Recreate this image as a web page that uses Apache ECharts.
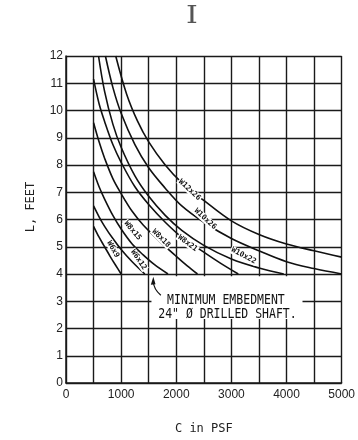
<!DOCTYPE html>
<html>
<head>
<meta charset="utf-8">
<script src="https://cdn.jsdelivr.net/npm/echarts@6/dist/echarts.min.js"></script>
<style>
  html, body { margin: 0; padding: 0; background: #fff; }
  #chart { width: 358px; height: 440px; }
</style>
</head>
<body>
<div id="chart"></div>
<script>
// Tick labels
const xTickLabels = ['0', '1000', '2000', '3000', '4000', '5000'];
const yTickLabels = ['0', '1', '2', '3', '4', '5', '6', '7', '8', '9', '10', '11', '12'];

// Curve names (wide-flange post sections)
const sections = ['W6x9', 'W6x12', 'W8x15', 'W8x18', 'W8x21', 'W10x22', 'W10x26', 'W12x26'];

// Embedment L (ft) against soil cohesion C (psf), one array per section
const w6x9   = [[500, 5.75], [600, 5.35], [700, 5.0], [800, 4.65], [900, 4.32], [1000, 4.0]];
const w6x12  = [[500, 6.5], [600, 6.1], [700, 5.75], [850, 5.3], [1000, 4.9], [1200, 4.45], [1430, 4.0]];
const w8x15  = [[500, 7.75], [600, 7.2], [700, 6.75], [850, 6.15], [1000, 5.65], [1200, 5.1], [1400, 4.7], [1600, 4.35], [1850, 4.0]];
const w8x18  = [[500, 9.55], [600, 8.85], [700, 8.25], [850, 7.5], [1000, 6.95], [1200, 6.3], [1400, 5.8], [1700, 5.2], [2000, 4.65], [2200, 4.3], [2385, 4.0]];
const w8x21  = [[500, 11.15], [600, 10.25], [700, 9.6], [850, 8.75], [1000, 8.1], [1250, 7.2], [1500, 6.55], [1800, 5.9], [2100, 5.35], [2500, 4.8], [2800, 4.4], [3125, 4.0]];
const w10x22 = [[590, 12], [700, 10.7], [850, 9.5], [1000, 8.65], [1250, 7.6], [1500, 6.85], [1800, 6.15], [2100, 5.6], [2500, 5.05], [3000, 4.55], [3500, 4.22], [3950, 4.0]];
const w10x26 = [[715, 12], [850, 10.85], [1000, 9.9], [1250, 8.75], [1500, 7.9], [1800, 7.15], [2100, 6.5], [2500, 5.9], [3000, 5.3], [3500, 4.85], [4000, 4.45], [4500, 4.2], [5000, 4.0]];
const w12x26 = [[902, 12], [1100, 10.6], [1300, 9.6], [1500, 8.85], [1800, 8.0], [2100, 7.35], [2500, 6.7], [3000, 5.95], [3500, 5.45], [4000, 5.1], [4500, 4.85], [5000, 4.62]];

const curves = [w6x9, w6x12, w8x15, w8x18, w8x21, w10x22, w10x26, w12x26];

// Where each section tag sits beside its curve: [C, L, slope angle in degrees]
const tagPlacement = [
  [854, 4.91, -62], [1317, 4.52, -56], [1210, 5.59, -50], [1726, 5.31, -45],
  [2206, 5.13, -37], [3221, 4.67, -28], [2527, 6.02, -42], [2242, 7.09, -43]
];

const note = ['MINIMUM EMBEDMENT', '24" \u00D8 DRILLED SHAFT.'];

const INK = '#1a1a1a';
const chart = echarts.init(document.getElementById('chart'), null, { renderer: 'canvas' });

chart.setOption({
  animation: false,
  backgroundColor: '#fff',
  grid: { left: 66, right: 11, top: 56, bottom: 47, containLabel: false },
  xAxis: {
    type: 'value', min: 0, max: 5000, interval: 500,
    name: 'C in PSF', nameLocation: 'middle', nameGap: 40,
    nameTextStyle: { fontFamily: 'DejaVu Sans Mono', fontSize: 12, color: '#222' },
    axisLine: { show: true, lineStyle: { color: INK, width: 1.5 } },
    axisTick: { show: false },
    axisLabel: {
      margin: 6, fontFamily: 'Liberation Sans', fontSize: 12, color: '#222',
      showMaxLabel: true, showMinLabel: true, hideOverlap: false,
      formatter: v => (xTickLabels.includes(String(v)) ? String(v) : '')
    },
    splitLine: { show: true, showMinLine: true, showMaxLine: true, lineStyle: { color: INK, width: 1.4 } }
  },
  yAxis: {
    type: 'value', min: 0, max: 12, interval: 1,
    axisLine: { show: true, lineStyle: { color: INK, width: 1.5 } },
    axisTick: { show: false },
    axisLabel: {
      margin: 3, fontFamily: 'Liberation Sans', fontSize: 12, color: '#222',
      formatter: v => yTickLabels[v] ?? ''
    },
    splitLine: { show: true, showMinLine: true, showMaxLine: true, lineStyle: { color: INK, width: 1.4 } }
  },
  series: curves.map((d, i) => ({
    name: sections[i], type: 'line', data: d, showSymbol: false, smooth: 0.35,
    clip: true, z: 3,
    lineStyle: { color: '#111', width: 1.6 }
  }))
});

// Annotations positioned through the axes
const px = (c, l) => chart.convertToPixel({ gridIndex: 0 }, [c, l]);
const g = [];

// 'I' section symbol above the plot
g.push({
  type: 'text', left: 186, top: 5, z: 10,
  style: { text: 'I', font: '24px "DejaVu Serif"', fill: '#555' },
  scaleX: 1.25
});

// y-axis title
g.push({
  type: 'text', x: 31, y: 207, rotation: Math.PI / 2, z: 10,
  style: { text: 'L, FEET', font: '12px "DejaVu Sans Mono"', fill: '#222', align: 'center', verticalAlign: 'middle' }
});

// Cleared area behind the embedment note
const b0 = px(1550, 3.92), b1 = px(4290, 2.35);
g.push({
  type: 'rect', z: 5,
  shape: { x: b0[0], y: b0[1], width: b1[0] - b0[0], height: b1[1] - b0[1] },
  style: { fill: '#fff' }
});

// Note text
const n1 = px(1833, 3.04), n2 = px(1673, 2.52);
g.push({
  type: 'text', x: n1[0], y: n1[1], z: 6, scaleY: 1.15,
  style: { text: note[0], font: '11.5px "DejaVu Sans Mono"', fill: '#111', verticalAlign: 'middle' }
});
g.push({
  type: 'text', x: n2[0], y: n2[1], z: 6, scaleY: 1.15,
  style: { text: note[1], font: '11.5px "DejaVu Sans Mono"', fill: '#111', verticalAlign: 'middle' }
});

// Leader arrow pointing at the L = 4 ft line
const a0 = px(1720, 3.22), aTip = px(1584, 3.9), aC = px(1590, 3.45);
g.push({
  type: 'bezierCurve', z: 6,
  shape: { x1: a0[0], y1: a0[1], x2: aTip[0], y2: aTip[1] + 5, cpx1: aC[0], cpy1: aC[1] },
  style: { stroke: '#111', lineWidth: 1.2, fill: null }
});
g.push({
  type: 'polygon', z: 6,
  shape: { points: [[aTip[0], aTip[1]], [aTip[0] - 2.5, aTip[1] + 8], [aTip[0] + 2.2, aTip[1] + 7.5]] },
  style: { fill: '#111' }
});

// Section tags along the curves (negative angle = falling to the right)
tagPlacement.forEach((t, i) => {
  const p = px(t[0], t[1]);
  g.push({
    type: 'text', x: p[0], y: p[1], rotation: t[2] * Math.PI / 180, z: 7,
    style: {
      text: sections[i], font: 'bold 7.5px "DejaVu Sans Mono"', fill: '#111',
      align: 'center', verticalAlign: 'middle',
      backgroundColor: '#fff', padding: [0, 1]
    }
  });
});

chart.setOption({ graphic: g });
</script>
</body>
</html>
